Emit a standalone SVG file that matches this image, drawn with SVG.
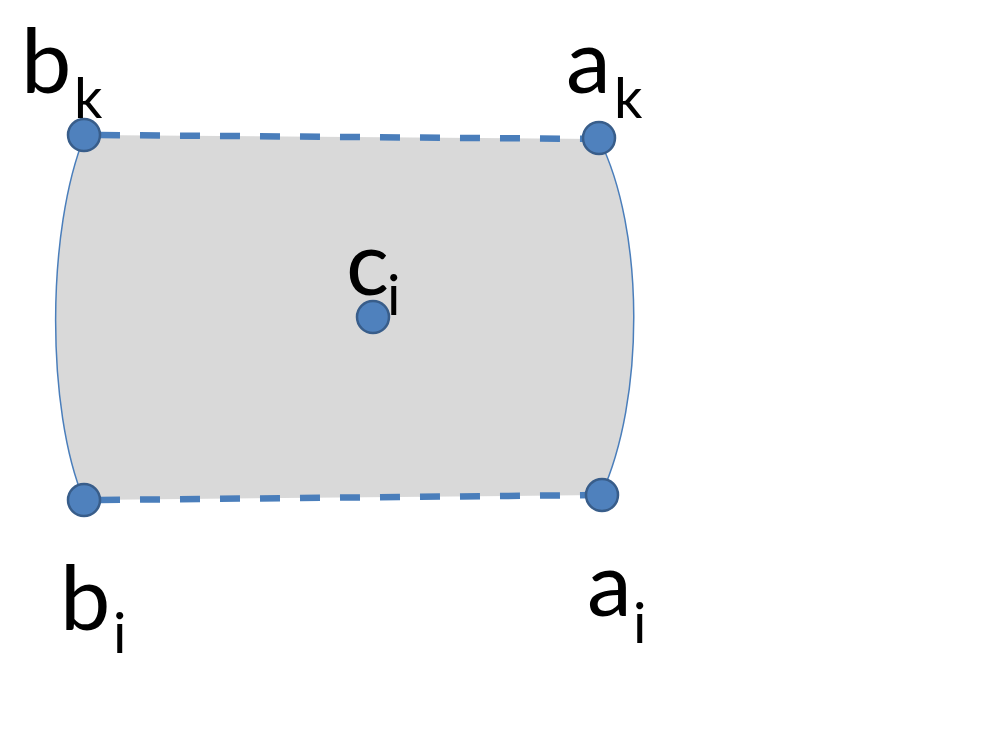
<svg xmlns="http://www.w3.org/2000/svg" width="1000" height="750" viewBox="0 0 1000 750">
  <style>
    .pt { fill: #4f81bd; stroke: #385d8a; stroke-width: 2.5; }
    .big { font-family: Lato, "Open Sans", "Liberation Sans", sans-serif; font-size: 90px; fill: #000; }
    .sub { font-family: Lato, "Open Sans", "Liberation Sans", sans-serif; font-size: 56px; fill: #000; }
    .dash { stroke: #4a7ebb; stroke-width: 6.5; stroke-dasharray: 20 20; fill: none; }
    .edge { stroke: #4a7ebb; stroke-width: 1.5; fill: none; }
  </style>
  <rect width="1000" height="750" fill="#ffffff"/>
  <g id="region">
    <path d="M85,135 L599,139 C645,230 645,400 601,495 L84,500 C46,410 46,230 85,135 Z" fill="#d9d9d9"/>
  </g>
  <g id="connectors">
    <path class="edge" d="M85,135 C46,230 46,410 84,500"/>
    <path class="edge" d="M599,139 C645,230 645,400 601,495"/>
    <line class="dash" x1="100" y1="135" x2="599" y2="139"/>
    <line class="dash" x1="100" y1="500" x2="601" y2="495"/>
  </g>
  <g id="bk">
    <circle class="pt" cx="84" cy="135" r="16"/>
    <text class="big" x="21" y="93">b</text>
    <text class="sub" x="74" y="118">k</text>
  </g>
  <g id="ak">
    <circle class="pt" cx="599" cy="138" r="16"/>
    <text class="big" x="566" y="93">a</text>
    <text class="sub" x="614" y="118">k</text>
  </g>
  <g id="bi">
    <circle class="pt" cx="84" cy="500" r="16"/>
    <text class="big" x="60" y="630">b</text>
    <text class="sub" x="113" y="653">i</text>
  </g>
  <g id="ai">
    <circle class="pt" cx="602" cy="495" r="16"/>
    <text class="big" x="587" y="616">a</text>
    <text class="sub" x="633" y="643">i</text>
  </g>
  <g id="ci">
    <circle class="pt" cx="373" cy="317" r="16"/>
    <text class="big" x="346" y="295">c</text>
    <text class="sub" x="387" y="315">i</text>
  </g>
</svg>
